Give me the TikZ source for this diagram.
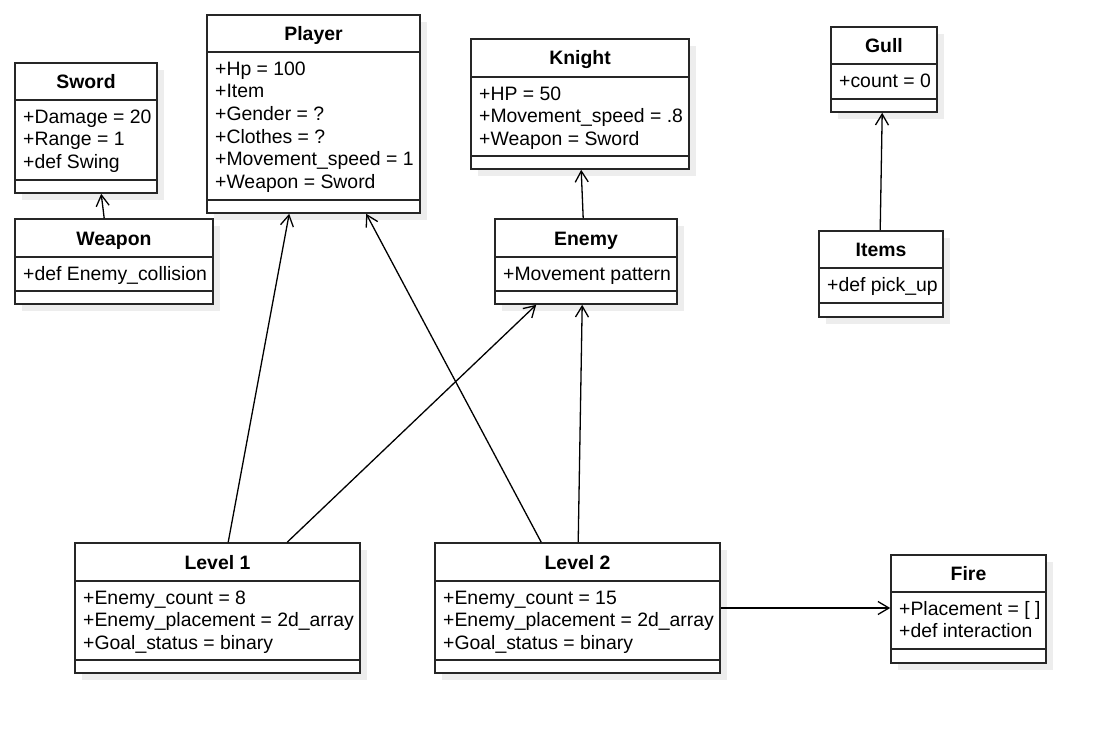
\documentclass[tikz,border=0pt]{standalone}
\usepackage{fontspec}
\setmainfont{Liberation Sans}
\usetikzlibrary{arrows.meta,fit,shadows}
\tikzset{
  classbox/.style={draw=black!85, line width=1.6pt, fill=white, inner sep=0pt,
    general shadow={fill=black!7, shadow xshift=7pt, shadow yshift=-7pt}},
  sepline/.style={draw=black!85, line width=1.6pt},
  classtitle/.style={font=\fontsize{19.4}{22.6}\selectfont\bfseries, anchor=base, inner sep=0pt},
  classattr/.style={font=\fontsize{19.4}{22.6}\selectfont, anchor=north west, align=left, inner sep=0pt},
  assoc/.style={draw=black, line width=1.3pt, -{Straight Barb[length=11pt,width=13pt,line width=1.3pt]}},
}
\newcommand\umlclass[9]{%
  \coordinate (#1-nw) at (#2,#3);
  \coordinate (#1-se) at (#4,#5);
  \node[classbox, fit=(#1-nw)(#1-se)] (#1) {};
  \draw[sepline] (#2,#6) -- (#4,#6);
  \draw[sepline] (#2,#7) -- (#4,#7);
  \node[classtitle] (#1-title) at ({(#2+#4)/2},{(#3+#6)/2+7}) {#8};
  \node[classattr] (#1-attr) at (#2+8,#6+23-15.82) {\strut #9};
}
\begin{document}
\begin{tikzpicture}[x=1pt,y=-1pt]
\useasboundingbox (0,0) rectangle (1105,733);
\fill[white] (0,0) rectangle (1105,733);

\umlclass{sword}{15}{63}{157}{193}{100}{180}{Sword}{+Damage = 20\\+Range = 1\\+def Swing}
\umlclass{weapon}{15}{219}{213}{304}{257}{291}{Weapon}{+def Enemy\_collision}
\umlclass{player}{207}{15}{420}{213}{52}{200}{Player}{+Hp = 100\\+Item\\+Gender = ?\\+Clothes = ?\\+Movement\_speed = 1\\+Weapon = Sword}
\umlclass{knight}{471}{39}{689}{169}{77}{156}{Knight}{+HP = 50\\+Movement\_speed = .8\\+Weapon = Sword}
\umlclass{enemy}{495}{219}{677}{304}{257}{291}{Enemy}{+Movement pattern}
\umlclass{gull}{831}{27}{937}{112}{64}{99}{Gull}{+count = 0}
\umlclass{items}{819}{231}{943}{317}{268}{303}{Items}{+def pick\_up}
\umlclass{level1}{75}{543}{360}{673}{581}{660}{Level 1}{+Enemy\_count = 8\\+Enemy\_placement = 2d\_array\\+Goal\_status = binary}
\umlclass{level2}{435}{543}{720}{673}{581}{660}{Level 2}{+Enemy\_count = 15\\+Enemy\_placement = 2d\_array\\+Goal\_status = binary}
\umlclass{fire}{891}{555}{1046}{663}{592}{649}{Fire}{+Placement = [ ]\\+def interaction}

\draw[assoc] ([xshift=90pt]weapon.north west) -- ([xshift=87pt]sword.south west);
\draw[assoc] ([xshift=154pt]level1.north west) -- ([xshift=83pt]player.south west);
\draw[assoc] ([xshift=213pt]level1.north west) -- ([xshift=42pt]enemy.south west);
\draw[assoc] ([xshift=107pt]level2.north west) -- ([xshift=160pt]player.south west);
\draw[assoc] ([xshift=144pt]level2.north west) -- ([xshift=88pt]enemy.south west);
\draw[assoc] ([xshift=89pt]enemy.north west) -- ([xshift=111pt]knight.south west);
\draw[assoc] ([xshift=62pt]items.north west) -- ([xshift=52pt]gull.south west);
\draw[assoc] (level2.east) -- (level2.east -| fire.west);
\end{tikzpicture}
\end{document}
